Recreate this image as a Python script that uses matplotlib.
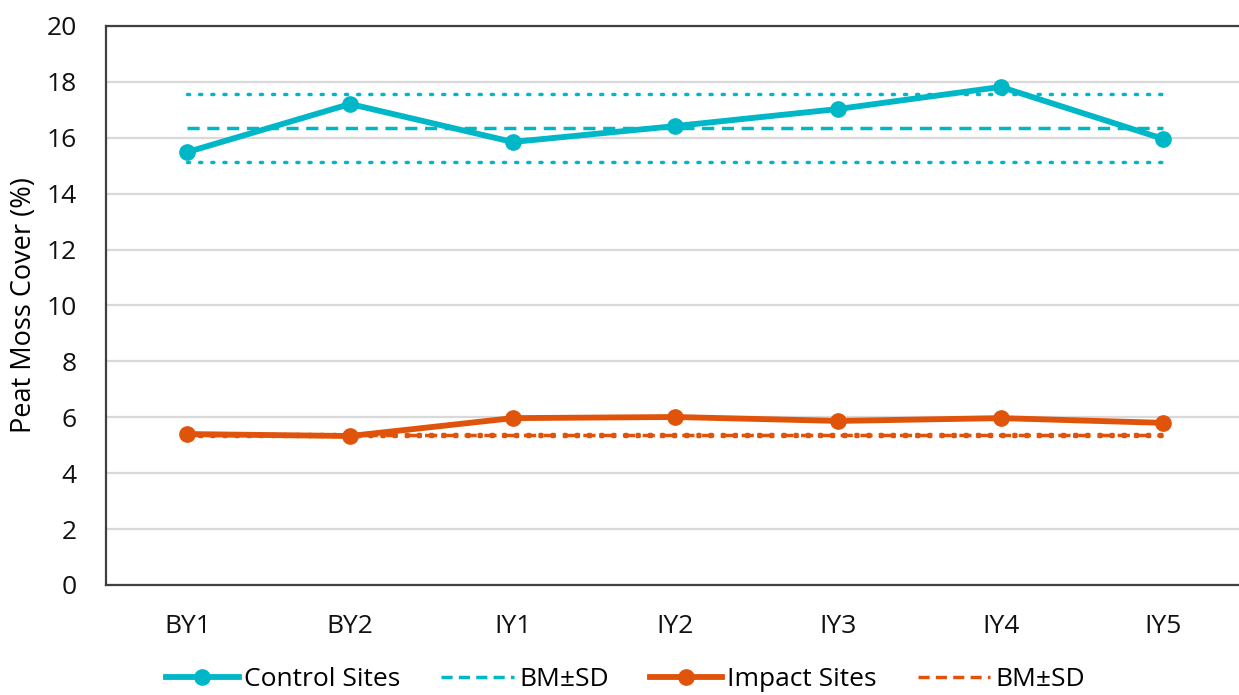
import matplotlib
matplotlib.use("Agg")
import matplotlib.pyplot as plt
from matplotlib.lines import Line2D

plt.rcParams['font.family'] = ['Open Sans', 'DejaVu Sans']

years = ["BY1", "BY2", "IY1", "IY2", "IY3", "IY4", "IY5"]
control = [15.49, 17.21, 15.85, 16.42, 17.03, 17.82, 15.96]
impact = [5.40, 5.33, 5.97, 6.01, 5.87, 5.97, 5.80]

control_bm = 16.35
control_sd = 1.22
impact_bm = 5.37
impact_sd = 0.04

teal = "#00B7C7"
orange = "#E0530A"

fig = plt.figure(figsize=(12.39, 6.95), dpi=100)
ax = fig.add_axes([0.0856, 0.1583, 0.919, 0.8043])

x = list(range(len(years)))
xs = [x[0], x[-1]]

# baseline mean and ±SD bands
dash = (0, (3.5, 2.2))
dot = (0, (0.6, 2.9))
for color, bm, sd in [(teal, control_bm, control_sd), (orange, impact_bm, impact_sd)]:
    ax.plot(xs, [bm] * 2, color=color, lw=2.5, ls=dash, zorder=2)
    for level in (bm + sd, bm - sd):
        ax.plot(xs, [level] * 2, color=color, lw=2.5, ls=dot,
                dash_capstyle='round', zorder=2)

ax.plot(x, control, color=teal, lw=4.2, marker='o', ms=11, zorder=3)
ax.plot(x, impact, color=orange, lw=4.2, marker='o', ms=11, zorder=3)

ax.set_xlim(-0.5, len(years) - 0.5)
ax.set_ylim(0, 20)
ax.set_yticks(range(0, 21, 2))
ax.set_xticks(x)
ax.set_xticklabels(years)
ax.tick_params(axis='both', length=0, labelsize=19, colors='#111111')
ax.tick_params(axis='x', pad=21)
ax.tick_params(axis='y', pad=21)
ax.grid(axis='y', color='#D9D9D9', lw=1.6)
ax.set_axisbelow(True)
for s in ax.spines.values():
    s.set_color('#404040')
    s.set_linewidth(1.6)
ax.set_ylabel("Peat Moss Cover (%)", fontsize=19.5, labelpad=6)

legend_dash = (0, (3.2, 1.8))
handles = [
    Line2D([], [], color=teal, lw=4.2, marker='o', ms=11),
    Line2D([], [], color=teal, lw=2.5, ls=legend_dash),
    Line2D([], [], color=orange, lw=4.2, marker='o', ms=11),
    Line2D([], [], color=orange, lw=2.5, ls=legend_dash),
]
labels = ["Control Sites", "BM\u00b1SD", "Impact Sites", "BM\u00b1SD"]
fig.legend(handles, labels, loc='center', bbox_to_anchor=(0.505, 0.022), ncol=4,
           frameon=False, fontsize=19, handlelength=2.75, handletextpad=0.2,
           columnspacing=1.55, borderpad=0.2)

fig.savefig("out.png", dpi=100)
